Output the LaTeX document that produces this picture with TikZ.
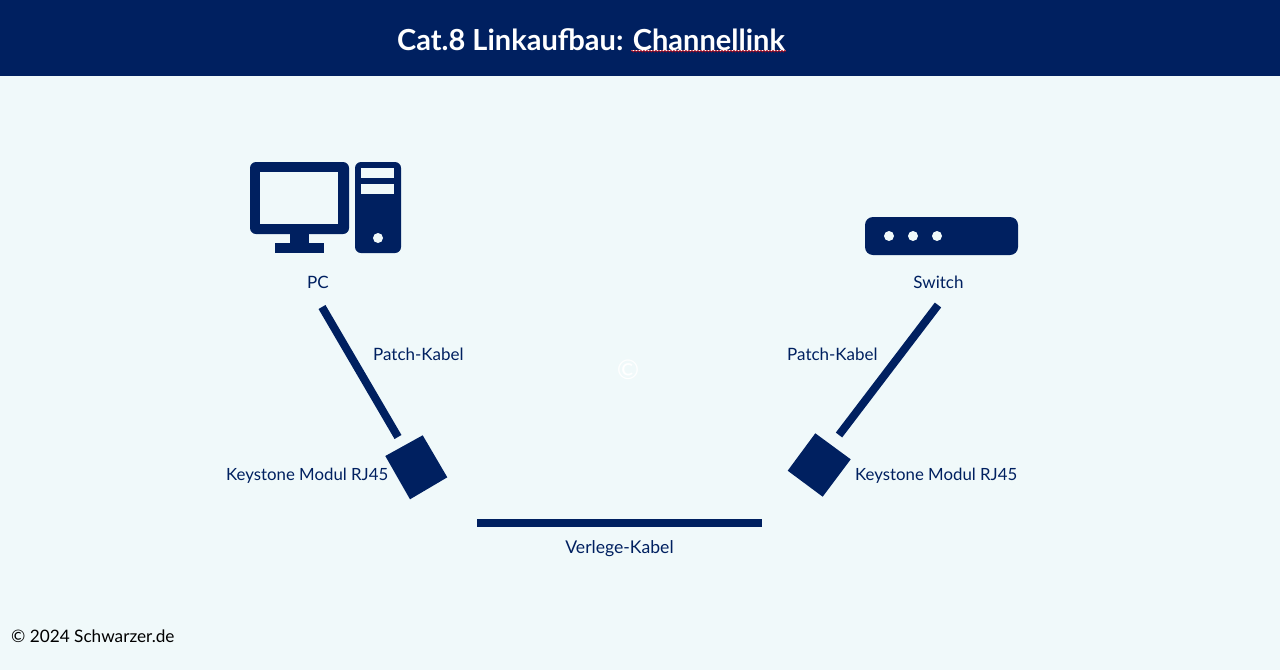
\documentclass[tikz,border=0pt]{standalone}
\usepackage{fontspec}
\setmainfont{Lato}
\usetikzlibrary{decorations.pathmorphing}
\definecolor{navy}{HTML}{002060}
\definecolor{paper}{HTML}{F0F9FA}
\tikzset{
  x=1pt,y=-1pt,
  lbl/.style={inner sep=0pt,text=navy,font=\fontsize{17}{17}\selectfont},
  lblkey/.style={inner sep=0pt,text=navy,font=\fontsize{16.8}{17}\selectfont},
  lblwide/.style={inner sep=0pt,text=navy,font=\fontsize{17.6}{17}\selectfont},
  cable/.style={draw=navy,line width=8pt},
  solid navy/.style={fill=navy,draw=none},
  hole/.style={fill=paper,draw=none},
}
\begin{document}
\begin{tikzpicture}
\useasboundingbox (0,0) rectangle (1280,670);
\fill[paper] (0,0) rectangle (1280,670);
\fill[navy] (0,0) rectangle (1280,76);
% title
\node[inner sep=0pt,anchor=base west,text=white,font=\fontsize{29}{29}\selectfont\bfseries] (title) at (397,50) {Cat.8 Linkaufbau: Channellink};
\coordinate (ulA) at (631,50);
\coordinate (ulB) at (786,50);
\draw[white,line width=1pt] (ulA) -- (ulB);
\draw[red!70!navy,line width=0.7pt,decorate,decoration={snake,amplitude=0.8pt,segment length=3pt}] ([yshift=-1.2pt]ulA) -- ([yshift=-1.2pt]ulB);
% PC
\fill[solid navy,rounded corners=6pt] (250,162) rectangle (349,234);
\fill[hole] (260,172) rectangle (338,224);
\fill[solid navy] (290,233) rectangle (309,244);
\fill[solid navy] (275,243) rectangle (324,253);
\fill[solid navy,rounded corners=6pt] (355,162) rectangle (401,253);
\fill[hole] (361,168) rectangle (394,178);
\fill[hole] (361,184) rectangle (394,194);
\fill[hole] (378,238) circle (5);
% switch
\fill[solid navy,rounded corners=8pt] (865,217) rectangle (1018,255);
\fill[hole] (889,236) circle (5);
\fill[hole] (913,236) circle (5);
\fill[hole] (937,236) circle (5);
% labels
\node[lbl,anchor=base] (pc) at (318,288) {PC};
\node[lbl,anchor=base] (sw) at (938.5,288) {Switch};
\node[lbl,anchor=base west] (patchL) at (373,360) {Patch-Kabel};
\node[lbl,anchor=base west] (patchR) at (787,360) {Patch-Kabel};
\node[lblkey,anchor=base west] (keyL) at (226,480) {Keystone Modul RJ45};
\node[lblkey,anchor=base west] (keyR) at (855,480) {Keystone Modul RJ45};
\node[lblwide,anchor=base] (verl) at (619.5,553) {Verlege-Kabel};
\node[inner sep=0pt,anchor=base,text=white,font=\fontsize{27}{27}\selectfont] (copy) at (628,379) {©};
\node[inner sep=0pt,anchor=base west,text=black,font=\fontsize{17.2}{17}\selectfont] (foot) at (11,642) {© 2024 Schwarzer.de};
% keystone modules
\fill[solid navy] (422.7,435.3) -- (447.3,477.3) -- (410,499.3) -- (385.3,456) -- cycle;
\fill[solid navy] (815.3,433.3) -- (850.7,459.3) -- (822.7,496.7) -- (787.7,470.7) -- cycle;
% cables
\coordinate (a1) at (322,307);
\coordinate (a2) at (398,437);
\coordinate (b1) at (938,305);
\coordinate (b2) at (839,435);
\coordinate (c1) at (477,523);
\coordinate (c2) at (762,523);
\draw[cable] (a1) -- (a2);
\draw[cable] (b1) -- (b2);
\draw[cable] (c1) -- (c2);
\end{tikzpicture}
\end{document}
